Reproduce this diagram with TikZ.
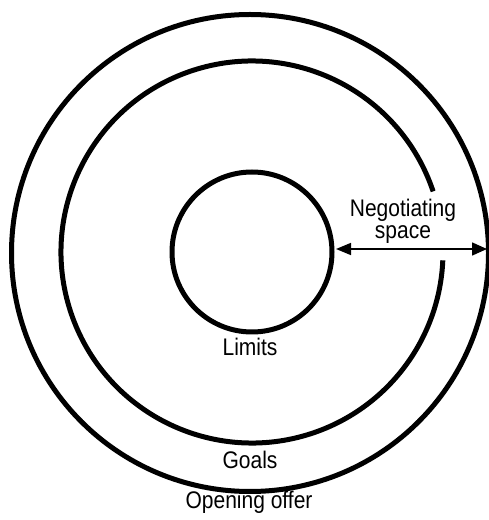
\documentclass[tikz,border=0pt]{standalone}
\usepackage{fontspec}
\setmainfont{Liberation Sans}[FakeStretch=0.875]
\usetikzlibrary{arrows.meta}
\tikzset{
  ring/.style={draw=black, line width=5pt, circle, inner sep=0pt, outer sep=0pt},
  lbl/.style={font=\fontsize{24}{22}\selectfont, anchor=base, inner sep=0pt, align=center},
  span/.style={line width=1.6pt, {Triangle[length=15pt,width=12pt]}-{Triangle[length=15pt,width=13pt]}}
}
\begin{document}
\begin{tikzpicture}[x=1pt,y=1pt]
\useasboundingbox (0,0) rectangle (488,520);
\node[ring, minimum size=477pt] (outer) at (250,267) {};
\draw[line width=5pt] (252,268) ++(18.5:191) arc[start angle=18.5, end angle=357.5, radius=191];
\node[ring, minimum size=160pt] (inner) at (252,268) {};
\coordinate (l) at (336,271);
\coordinate (r) at (487,271);
\draw[span] (l) -- (r);
\node[lbl] (neg) at (403,303) {Negotiating};
\node[lbl] (spc) at (403,281) {space};
\node[lbl] (lim) at (250,164) {Limits};
\node[lbl] (goa) at (250,52) {Goals};
\node[lbl] (ope) at (249,11) {Opening offer};
\end{tikzpicture}
\end{document}
